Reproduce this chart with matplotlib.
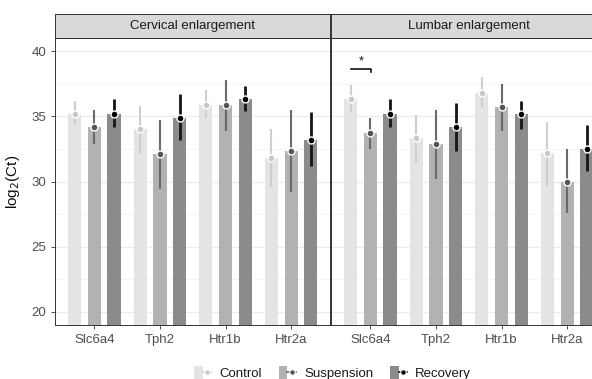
import numpy as np
import matplotlib
matplotlib.use("Agg")
import matplotlib.pyplot as plt
from matplotlib.lines import Line2D
from matplotlib.patches import Patch
from matplotlib.legend_handler import HandlerTuple

plt.rcParams['font.family'] = ['Liberation Sans', 'DejaVu Sans']

genes = ['Slc6a4', 'Tph2', 'Htr1b', 'Htr2a']
groups = ['Control', 'Suspension', 'Recovery']
regions = ['Cervical enlargement', 'Lumbar enlargement']

# mean, lower, upper per region -> group -> gene
cerv_mean = {'Control':    [35.15, 34.0, 35.9, 31.8],
             'Suspension': [34.2, 32.1, 35.85, 32.35],
             'Recovery':   [35.2, 34.9, 36.35, 33.2]}
cerv_lo = {'Control':    [34.3, 32.1, 34.9, 29.6],
           'Suspension': [32.9, 29.4, 33.85, 29.2],
           'Recovery':   [34.2, 33.2, 35.4, 31.2]}
cerv_hi = {'Control':    [36.15, 35.8, 37.0, 34.0],
           'Suspension': [35.5, 34.7, 37.8, 35.45],
           'Recovery':   [36.35, 36.7, 37.3, 35.3]}

lumb_mean = {'Control':    [36.35, 33.3, 36.8, 32.15],
             'Suspension': [33.7, 32.85, 35.7, 30.0],
             'Recovery':   [35.2, 34.15, 35.15, 32.5]}
lumb_lo = {'Control':    [35.3, 31.45, 35.7, 29.65],
           'Suspension': [32.5, 30.2, 33.85, 27.6],
           'Recovery':   [34.2, 32.3, 34.0, 30.8]}
lumb_hi = {'Control':    [37.4, 35.1, 38.0, 34.55],
           'Suspension': [34.85, 35.5, 37.45, 32.5],
           'Recovery':   [36.3, 36.0, 36.2, 34.3]}

bar_col = {'Control': '#e4e4e4', 'Suspension': '#b2b2b2', 'Recovery': '#8b8b8b'}
err_col = {'Control': '#cfcfcf', 'Suspension': '#6a6a6a', 'Recovery': '#151515'}
pt_col = {'Control': '#c8c8c8', 'Suspension': '#555555', 'Recovery': '#000000'}
offs = {'Control': -0.3, 'Suspension': 0.0, 'Recovery': 0.3}

fig = plt.figure(figsize=(5.92, 3.79), dpi=100)
W, H = 592, 379
bot = 1 - 325 / H
top = 1 - 38 / H
pw = 275.5 / W
lefts = [55 / W, 331 / W]

data = [(cerv_mean, cerv_lo, cerv_hi), (lumb_mean, lumb_lo, lumb_hi)]
x = np.arange(1, len(genes) + 1)

for i, (mean, lo, hi) in enumerate(data):
    ax = fig.add_axes([lefts[i], bot, pw, top - bot])
    ax.set_xlim(0.4, 4.6)
    ax.set_ylim(19, 41)
    ax.set_yticks([20, 25, 30, 35, 40])
    ax.set_yticks([22.5, 27.5, 32.5, 37.5], minor=True)
    ax.grid(which='major', axis='y', color='#ebebeb', lw=0.9)
    ax.grid(which='minor', axis='y', color='#f4f4f4', lw=0.6)
    ax.set_axisbelow(True)
    for g in groups:
        xs = x + offs[g]
        ax.bar(xs, mean[g], width=0.2, bottom=0, color=bar_col[g], zorder=2)
        ax.vlines(xs, lo[g], hi[g], color=err_col[g],
                  lw=2.0 if g == 'Recovery' else 1.5, zorder=3)
        ax.plot(xs, mean[g], 'o', ms=5, mfc=pt_col[g], mec='white', mew=1.0,
                zorder=4)
    ax.set_xticks(x)
    ax.set_xticklabels(genes)
    ax.tick_params(axis='both', colors='#333333', labelcolor='#4d4d4d',
                   labelsize=9.5, length=3, width=0.6)
    ax.tick_params(which='minor', length=0)
    for s in ax.spines.values():
        s.set_color('#333333')
        s.set_linewidth(0.7)
    if i == 0:
        ax.set_ylabel('log$_2$(Ct)', fontsize=11, color='#111111')
        ax.yaxis.set_label_coords(-33 / 275.5, 0.5)
    else:
        ax.tick_params(axis='y', left=False, labelleft=False)
        # significance bracket Control vs Suspension
        ax.plot([0.7, 1.01, 1.01], [38.65, 38.65, 38.4], color='#111111',
                lw=1.2, zorder=5)
        ax.text(0.855, 38.75, '*', ha='center', va='bottom', fontsize=9,
                color='#111111')
    # strip
    sax = fig.add_axes([lefts[i], top, pw, 24 / H])
    sax.set_xticks([])
    sax.set_yticks([])
    sax.set_facecolor('#d9d9d9')
    for s in sax.spines.values():
        s.set_color('#333333')
        s.set_linewidth(0.7)
    sax.text(0.5, 0.5, regions[i], transform=sax.transAxes, ha='center',
             va='center', fontsize=9.5, color='#1a1a1a')

handles = []
for g in groups:
    p = Patch(facecolor=bar_col[g], edgecolor='none')
    l = Line2D([], [], color=err_col[g], lw=1.2, marker='o', ms=4,
               mfc=pt_col[g], mec='white', mew=0.8)
    handles.append((p, l))
fig.legend(handles, groups, handler_map={tuple: HandlerTuple(ndivide=None, pad=0)},
           loc='center', bbox_to_anchor=(0.562, 1 - 373 / H), ncol=3,
           frameon=False, fontsize=9.5, handlelength=1.3, handleheight=1.2,
           columnspacing=1.3, handletextpad=0.6, labelcolor='#1a1a1a')

fig.savefig('out.png', dpi=100)
